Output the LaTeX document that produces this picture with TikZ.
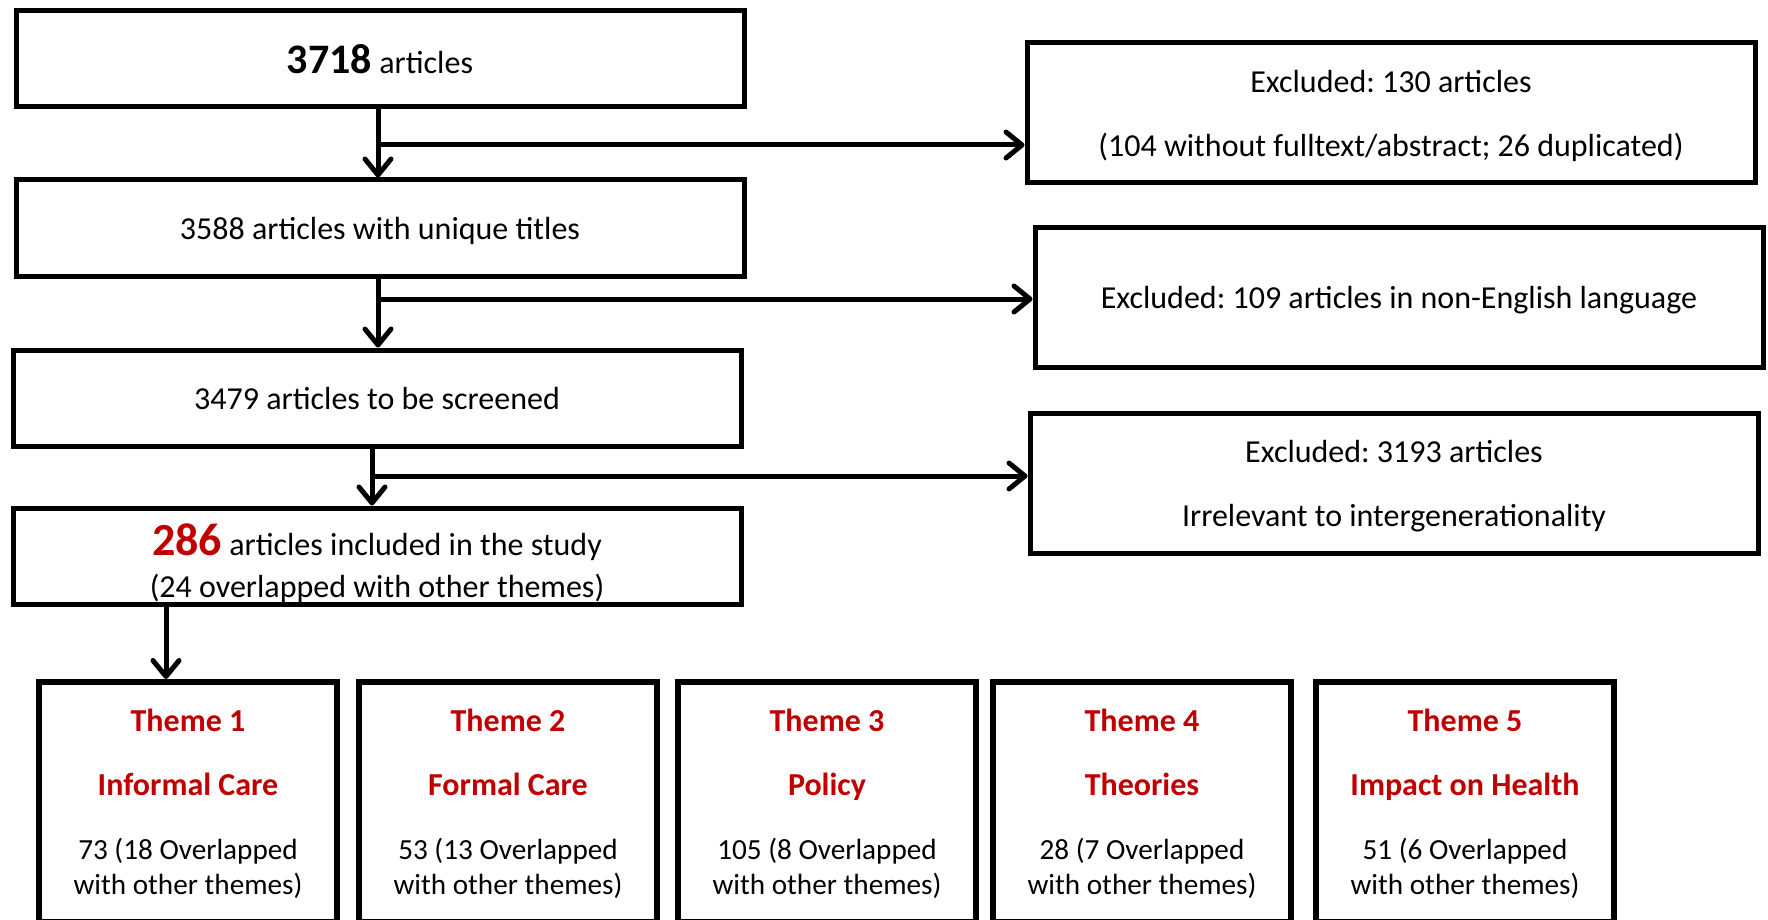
\documentclass[tikz,border=0pt]{standalone}
\usepackage{fontspec}
\setmainfont{Carlito}
\usetikzlibrary{arrows.meta}
\definecolor{themered}{RGB}{192,0,0}
\tikzset{
  box/.style={draw, line width=2.5pt, minimum width=364pt, minimum height=48pt, align=center,
    text depth=0pt, font=\fontsize{16}{17.5}\selectfont},
  exbox/.style={box, minimum height=70pt},
  themebox/.style={box, line width=3pt, minimum width=149pt, minimum height=120pt},
  arr/.style={line width=2.5pt, -{Straight Barb[length=8pt,width=13pt,round]}}
}
\newcommand{\thm}[1]{\textcolor{themered}{\bfseries #1}}
\newcommand{\cnt}{\fontsize{14.6}{17.5}\selectfont}

\begin{document}
\frenchspacing
\begin{tikzpicture}[x=0.5pt,y=-0.5pt]
  \useasboundingbox (0,0) rectangle (1768,920);
  \clip (0,0) rectangle (1768,920);
  % left column
  \node[box] (all) at (380,59) {{\fontsize{21}{22}\selectfont\bfseries 3718} articles};
  \node[box] (unique) at (380,228) {3588 articles with unique titles};
  \node[box] (screen) at (377,398) {3479 articles to be screened};
  \node[box] (incl) at (377,556) {\rule{0pt}{20pt}{\fontsize{23}{24}\selectfont\thm{286}} articles included in the study\\[3.5pt]
    (24 overlapped with other themes)};
  % excluded
  \node[exbox] (ex1) at (1391,113) {Excluded: 130 articles\\[14.5pt](104 without fulltext/abstract; 26 duplicated)};
  \node[exbox] (ex2) at (1399,297) {Excluded: 109 articles in non-English language};
  \node[exbox] (ex3) at (1394,483) {Excluded: 3193 articles\\[14.5pt]Irrelevant to intergenerationality};
  % themes
  \foreach \i/\x/\name/\num in {1/188/Informal Care/73 (18,2/508/Formal Care/53 (13,
      3/827/Policy/105 (8,4/1142/Theories/28 (7,5/1465/Impact on Health/51 (6}
    \node[themebox] (theme\i) at (\x,802) {\thm{Theme \i}\\[14.5pt]\thm{\name}\\[14.5pt]{\cnt\num{} Overlapped}\\{\cnt with other themes)}};
  % arrows
  \coordinate (j1) at (378,145);
  \coordinate (j2) at (378,299);
  \coordinate (j3) at (372,476);
  \coordinate (k) at (166,0);
  \draw[arr] (j1 |- all.south) -- (j1 |- unique.north);
  \draw[arr] (j1) -- (j1 -| ex1.west);
  \draw[arr] (j2 |- unique.south) -- (j2 |- screen.north);
  \draw[arr] (j2) -- (j2 -| ex2.west);
  \draw[arr] (j3 |- screen.south) -- (j3 |- incl.north);
  \draw[arr] (j3) -- (j3 -| ex3.west);
  \draw[arr] (k |- incl.south) -- (k |- theme1.north);
\end{tikzpicture}
\end{document}
